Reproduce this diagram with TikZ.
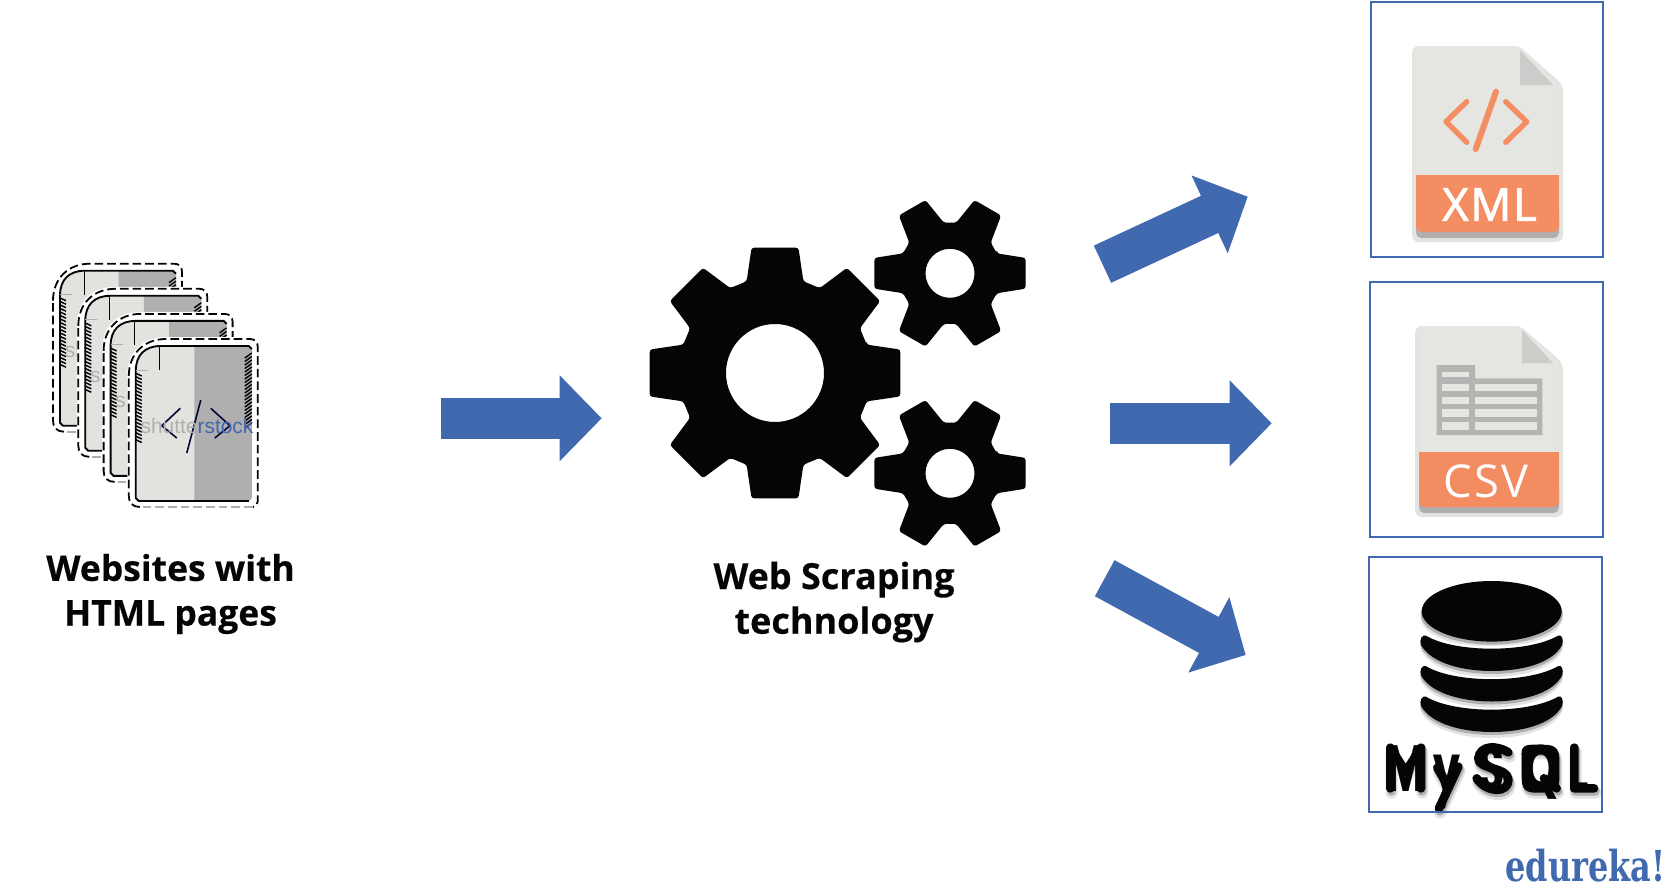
\documentclass[tikz,border=0pt]{standalone}
\usepackage{fontspec}
\usepackage{graphicx}
\setmainfont{Open Sans}
\newfontfamily\polyfont{Poppins}
\newfontfamily\slabfont[FakeStretch=0.75]{DejaVu Serif}
\newfontfamily\markfont{Liberation Sans}
\newfontfamily\headfont[FakeBold=0.35]{Open Sans Bold}
\usetikzlibrary{arrows.meta,calc}
\definecolor{edublue}{HTML}{4169AF}
\definecolor{docgrey}{HTML}{E5E5E1}
\definecolor{pagegrey}{HTML}{E2E2DE}
\definecolor{shadegrey}{HTML}{B0AEAE}
\definecolor{docorange}{HTML}{F58D63}
\definecolor{csvorange}{HTML}{F38C60}
\definecolor{halo}{HTML}{E3E3E0}
\definecolor{inkblack}{HTML}{050505}
\tikzset{
  bigarrow/.style={line width=30.75pt,draw=edublue,-{Triangle[length=31.5pt,width=62.5pt,fill=edublue]}},
  framebox/.style={draw=edublue,line width=1.5pt,fill=none,inner sep=0pt,anchor=north west},
  caption/.style={align=center,text=inkblack,inner sep=0pt},
  filelabel/.style={text=white,inner sep=0pt,anchor=base},
  dashline/.style={line width=1.35pt,dash pattern=on 6.5pt off 3pt},
  watermark/.style={inner sep=0pt,anchor=base west,font=\markfont\fontsize{15.7}{15.7}\selectfont},
}
\newcommand\fileicon[6]{%
  \fill[halo,rounded corners=5pt] (#1-4,#3) -- (#5,#3) -- (#2+4,#6) -- (#2+4,#4+10) -- (#1-4,#4+10) -- cycle;
  \fill[shadegrey,rounded corners=4pt] (#1,#4-20) rectangle (#2,#4+6);
  \fill[docgrey,rounded corners=3pt] (#1,#3) -- (#5,#3) -- (#2,#6) -- (#2,#4-10) -- (#1,#4-10) -- cycle;
}
\newcommand\gearicon[8]{%
  \fill[inkblack,even odd rule,rounded corners=2pt,shift={(#1,#2)}]
    (-#7:#6)
    \foreach \a in {#3} { -- (\a-#7:#6) -- (\a-#5:#4) -- (\a+#5:#4) -- (\a+#7:#6) }
    -- cycle (0,0) circle (#8);
}
\newcommand\webpage[3]{%
  \begin{scope}[shift={(#1,#2)}]
    \fill[white] (-8.5,30) .. controls (-8.5,6) and (6,-9) .. (30,-9) -- (119,-9) -- (125,-3) -- (125,158) -- (119,164) -- (-3,164) -- (-8.5,158) -- cycle;
    \draw[dashline,inkblack] (-7,30) .. controls (-7,8) and (8,-7) .. (30,-7) -- (114,-7) .. controls (119,-7) and (122,-4) .. (122,1) -- (122,155) .. controls (122,158) and (120,161) .. (117,161) ;
    \draw[dashline,shadegrey] (117,161) -- (4,161);
    \draw[dashline,inkblack] (4,161) .. controls (-3,161) and (-7,157) .. (-7,150) -- (-7,30);
    \fill[pagegrey] (0,25) .. controls (0,9) and (9,0) .. (25,0) -- (113,0) -- (116,3) -- (116,152) -- (113,155) -- (3,155) -- (0,152) -- cycle;
    \fill[shadegrey] (58.5,0) -- (113,0) -- (116,3) -- (116,152) -- (113,155) -- (58.5,155) -- cycle;
    \draw[inkblack,line width=1.4pt] (116,3) -- (113,0) -- (25,0) .. controls (9,0) and (0,9) .. (0,25) -- (0,152) -- (3,155) -- (113,155);
    \draw[inkblack,line width=.7pt] (24,0) -- (24,24);
    \draw[shadegrey,line width=.7pt] (0,24) -- (12,24);
    \foreach \y in {27,30.5,...,95} {\draw[inkblack,line width=1.1pt] (-.5,\y) -- (6,\y+3);}
    \foreach \y in {9,12.5,...,81} {\draw[inkblack,line width=1.1pt] (109,\y+3) -- (116,\y-2);}
    #3
  \end{scope}
}
\newcommand\dbband[1]{%
  (1426,635.7+#1) .. controls (1455,653+#1) and (1528,653+#1) .. (1558,635.7+#1)
  .. controls (1562,634+#1) and (1564,640+#1) .. (1562,645+#1)
  .. controls (1552,664+#1) and (1520,671+#1) .. (1492,671+#1)
  .. controls (1464,671+#1) and (1432,664+#1) .. (1421,645+#1)
  .. controls (1419,640+#1) and (1422,634+#1) .. (1426,635.7+#1) -- cycle
}
\newcommand\mysqlstrokes{%
  (151,730) -- (151,608) -- (197,680) -- (243,608) -- (243,730)
  (292,668) -- (325,725) (355,665) -- (297,790)
  (505,622) .. controls (470,600) and (420,600) .. (415,640) .. controls (415,675) and (505,665) .. (505,705) .. controls (505,745) and (440,745) .. (410,700)
  (590,612) .. controls (550,612) and (558,612) .. (558,650) -- (558,695) .. controls (558,730) and (565,730) .. (600,730) .. controls (640,730) and (645,725) .. (645,695) -- (645,650) .. controls (645,612) and (640,612) .. (590,612)
  (612,700) -- (650,730)
  (703,608) -- (703,730) -- (762,730)
}
\begin{document}
\begin{tikzpicture}[x=.75pt,y=-.75pt]
\useasboundingbox (0,0) rectangle (1670,885);
\fill[white] (0,0) rectangle (1670,885);

% stack of pages
\webpage{60}{270.7}{\node[watermark,text=shadegrey] (wm1) at (4.5,87) {sh};}
\webpage{85.3}{295.8}{\node[watermark,text=shadegrey] (wm2) at (4.5,87) {sh};}
\webpage{110.6}{320.9}{\node[watermark,text=shadegrey] (wm3) at (4.5,87) {sh};}
\webpage{135.8}{346}{%
  \draw[inkblack!80!blue,line width=1.2pt] (44.5,62.3) -- (26,79.7) -- (41,92);
  \draw[inkblack!80!blue,line width=1.2pt] (75,62.3) -- (94.2,79.7) -- (79,92);
  \draw[inkblack!80!blue,line width=1.2pt] (65,54) -- (51,107);
  \node[watermark] (wm4) at (4.5,87) {\textcolor{shadegrey}{shutte}\textcolor{edublue}{rstock}};
}
\node[caption,font=\headfont\fontsize{26.6}{33.5}\selectfont] (sitescap) at (170.5,594) {Websites with\\HTML pages};

% gears
\gearicon{775}{373}{0,45,...,315}{127.5}{10.6}{96}{17.2}{49}
\gearicon{950}{273.3}{0,60,...,300}{77.2}{11.5}{51}{23}{24.5}
\gearicon{950}{473.3}{0,60,...,300}{77.2}{11.5}{51}{23}{24.5}
\node[caption,font=\headfont\fontsize{27}{33.5}\selectfont] (gearcap) at (834,602) {Web Scraping\\technology};

% block arrows
\coordinate (a1s) at (441,418.3);
\coordinate (a1e) at (601.7,418.3);
\coordinate (a2s) at (1102.5,264.2);
\coordinate (a2e) at (1247.7,196.7);
\coordinate (a3s) at (1110,423.3);
\coordinate (a3e) at (1271.7,423.3);
\coordinate (a4s) at (1104.7,578.2);
\coordinate (a4e) at (1245.7,655);
\draw[bigarrow] (a1s) -- (a1e);
\draw[bigarrow] (a2s) -- (a2e);
\draw[bigarrow] (a3s) -- (a3e);
\draw[bigarrow] (a4s) -- (a4e);

% XML
\fileicon{1416}{1559}{46}{232}{1519}{85}
\fill[shadegrey!45!docgrey] (1520,50) -- (1553,85) -- (1520,85) -- cycle;
\draw[docorange,line width=4pt,line cap=round,line join=round] (1466.7,101.7) -- (1446,121.7) -- (1466.7,142.3);
\draw[docorange,line width=4pt,line cap=round,line join=round] (1505.7,101.7) -- (1526.7,121.7) -- (1505.7,142.3);
\draw[docorange,line width=4.5pt,line cap=round] (1496,91.7) -- (1475.7,149);
\fill[docorange,rounded corners=4pt] (1416,200) -- (1416,232) -- (1559,232) -- (1559,200) -- cycle;
\fill[docorange] (1416,175) rectangle (1559,210);
\node[filelabel,font=\fontsize{34}{34}\selectfont\addfontfeature{LetterSpace=4,FakeBold=2}] (xmllabel) at (1489.5,220.7) {XML};

% CSV
\fileicon{1419}{1559}{326}{507}{1520}{363}
\fill[shadegrey!45!docgrey] (1522,330) -- (1553,363) -- (1522,363) -- cycle;
\fill[shadegrey!90!docgrey] (1436.7,365) -- (1475,365) -- (1475,378.3) -- (1542.3,378.3) -- (1542.3,435) -- (1436.7,435) -- cycle;
\foreach \t/\b in {371.7/377.3, 384/390.7, 396.7/404, 409.3/416.7, 422.3/430} {\fill[docgrey] (1441.7,\t) rectangle (1469.3,\b);}
\foreach \t/\b in {384/390.7, 396.7/404, 409.3/416.7, 422.3/430} {\fill[docgrey] (1475,\t) rectangle (1537.3,\b);}
\fill[csvorange,rounded corners=4pt] (1419,480) -- (1419,507) -- (1559,507) -- (1559,480) -- cycle;
\fill[csvorange] (1419,451.7) rectangle (1559,490);
\node[filelabel,font=\fontsize{34}{34}\selectfont\addfontfeature{LetterSpace=4}] (csvlabel) at (1486,497.3) {CSV};

% database shadow and body
\fill[halo] (1491.7,617.3) ellipse (71 and 30.3);
\fill[shadegrey] (1491.7,614.3) ellipse (71 and 30.3);
\fill[white] \dbband{-2.5};
\fill[white] \dbband{28};
\fill[white] \dbband{58.5};
\foreach \c/\o in {halo/6,shadegrey/3} {
  \fill[\c] \dbband{\o};
  \fill[\c] \dbband{30.5+\o};
  \fill[\c] \dbband{61+\o};
}
\fill[inkblack] (1491.7,611.3) ellipse (70 and 30.3);
\fill[inkblack] \dbband{0};
\fill[inkblack] \dbband{30.5};
\fill[inkblack] \dbband{61};

% MySQL
\begin{scope}[shift={(1340,545)},x=.25pt,y=-.25pt]
  \draw[halo,line width=9pt,line cap=round,line join=round,shift={(4,13)}] \mysqlstrokes;
  \draw[shadegrey,line width=7pt,line cap=round,line join=round,shift={(3,8)}] \mysqlstrokes;
  \draw[inkblack,line width=6.5pt,line cap=round,line join=round] \mysqlstrokes;
\end{scope}
\node[inner sep=0pt,anchor=base west,font=\polyfont\bfseries\fontsize{49}{49}\selectfont,text=inkblack] (mysqllabel) at (1386,791.7) {\scalebox{.65}[1]{M\kern9pt y\kern22pt S\kern22pt Q\kern13pt L}};

% frames
\node[framebox,minimum width=174pt,minimum height=190.7pt] (xmlbox) at (1370,1.3) {};
\node[framebox,minimum width=174.7pt,minimum height=190.8pt] (csvbox) at (1369,281.3) {};
\node[framebox,minimum width=174.7pt,minimum height=191pt] (sqlbox) at (1368,556) {};

% logo
\node[inner sep=0pt,anchor=base west,text=edublue,font=\slabfont\bfseries\fontsize{32}{32}\selectfont] (logo) at (1505,881) {edureka!};
\end{tikzpicture}
\end{document}
